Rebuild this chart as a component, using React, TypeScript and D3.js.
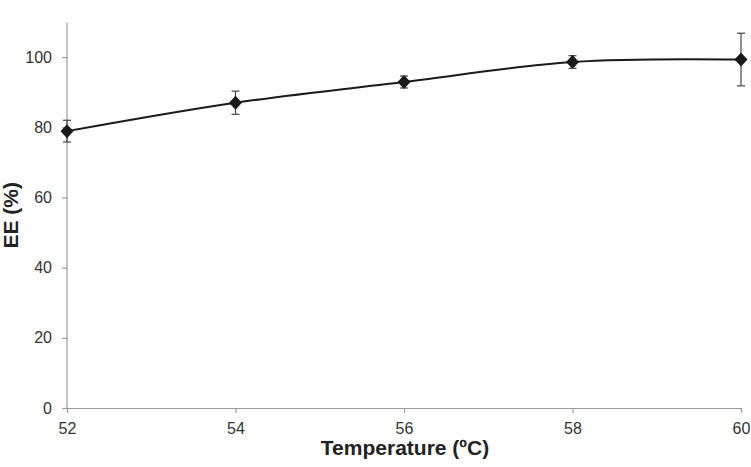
import { useEffect, useRef } from "react";
import * as d3 from "d3";

const temperatures = [52, 54, 56, 58, 60];
const eeValues = [78.9, 87.0, 92.9, 98.6, 99.3];
const eeErrors = [3.1, 3.3, 1.7, 1.8, 7.5];
const xTicks = [52, 54, 56, 58, 60];
const yTicks = [0, 20, 40, 60, 80, 100];

export default function App() {
  const ref = useRef<SVGSVGElement>(null);

  useEffect(() => {
    const width = 751;
    const height = 467;
    const left = 67;
    const right = 741;
    const top = 22.7;
    const bottom = 408;

    const svg = d3.select(ref.current);
    svg.selectAll("*").remove();

    const x = d3.scaleLinear().domain([52, 60]).range([left, right]);
    const y = d3.scaleLinear().domain([0, 109.8]).range([bottom, top]);

    const font = "Liberation Sans, Arial, sans-serif";
    const axisColor = "#9a9a9a";

    // y axis
    const yAxis = svg
      .append("g")
      .attr("transform", `translate(${left},0)`)
      .call(d3.axisLeft(y).tickValues(yTicks).tickSize(5).tickPadding(10).tickSizeOuter(0));
    yAxis.select(".domain").attr("stroke", axisColor).attr("stroke-width", 1.2);
    yAxis.selectAll(".tick line").attr("stroke", axisColor).attr("stroke-width", 1.2);
    yAxis
      .selectAll(".tick text")
      .attr("fill", "#333")
      .style("font", `16px ${font}`);
    yAxis.select(".domain").attr("d", `M0,${bottom}V${top}`);

    // x axis
    const xAxis = svg
      .append("g")
      .attr("transform", `translate(0,${bottom})`)
      .call(d3.axisBottom(x).tickValues(xTicks).tickSize(5).tickPadding(10).tickSizeOuter(0));
    xAxis.select(".domain").attr("stroke", axisColor).attr("stroke-width", 1.2);
    xAxis.selectAll(".tick line").attr("stroke", axisColor).attr("stroke-width", 1.2);
    xAxis
      .selectAll(".tick text")
      .attr("fill", "#333")
      .style("font", `16px ${font}`);

    // titles
    svg
      .append("text")
      .attr("x", (left + right) / 2 + 1)
      .attr("y", 455)
      .attr("text-anchor", "middle")
      .attr("fill", "#222")
      .style("font", `bold 21px ${font}`)
      .text("Temperature (ºC)");

    svg
      .append("text")
      .attr("transform", `translate(18,${(top + bottom) / 2}) rotate(-90)`)
      .attr("text-anchor", "middle")
      .attr("fill", "#222")
      .style("font", `bold 21px ${font}`)
      .text("EE (%)");

    const pts = temperatures.map((t, i) => ({ t, v: eeValues[i], e: eeErrors[i] }));

    // smoothed line
    const line = d3
      .line<{ t: number; v: number }>()
      .x((d) => x(d.t))
      .y((d) => y(d.v))
      .curve(d3.curveCatmullRom.alpha(0.5));

    svg
      .append("path")
      .datum(pts)
      .attr("fill", "none")
      .attr("stroke", "#1a1a1a")
      .attr("stroke-width", 2)
      .attr("d", line);

    // error bars
    const err = svg.append("g").attr("stroke", "#444").attr("stroke-width", 1.2);
    pts.forEach((d) => {
      const cx = x(d.t);
      err.append("line").attr("x1", cx).attr("x2", cx).attr("y1", y(d.v - d.e)).attr("y2", y(d.v + d.e));
      [d.v - d.e, d.v + d.e].forEach((val) => {
        err.append("line").attr("x1", cx - 4).attr("x2", cx + 4).attr("y1", y(val)).attr("y2", y(val));
      });
    });

    // markers
    svg
      .append("g")
      .selectAll("path")
      .data(pts)
      .join("path")
      .attr("transform", (d) => `translate(${x(d.t)},${y(d.v)})`)
      .attr("d", "M0,-7L6.5,0L0,7L-6.5,0Z")
      .attr("fill", "#1a1a1a");

    svg.attr("width", width).attr("height", height);
  }, []);

  return (
    <svg
      ref={ref}
      width={751}
      height={467}
      style={{ position: "absolute", left: 0, top: 0, background: "#fff" }}
    />
  );
}
